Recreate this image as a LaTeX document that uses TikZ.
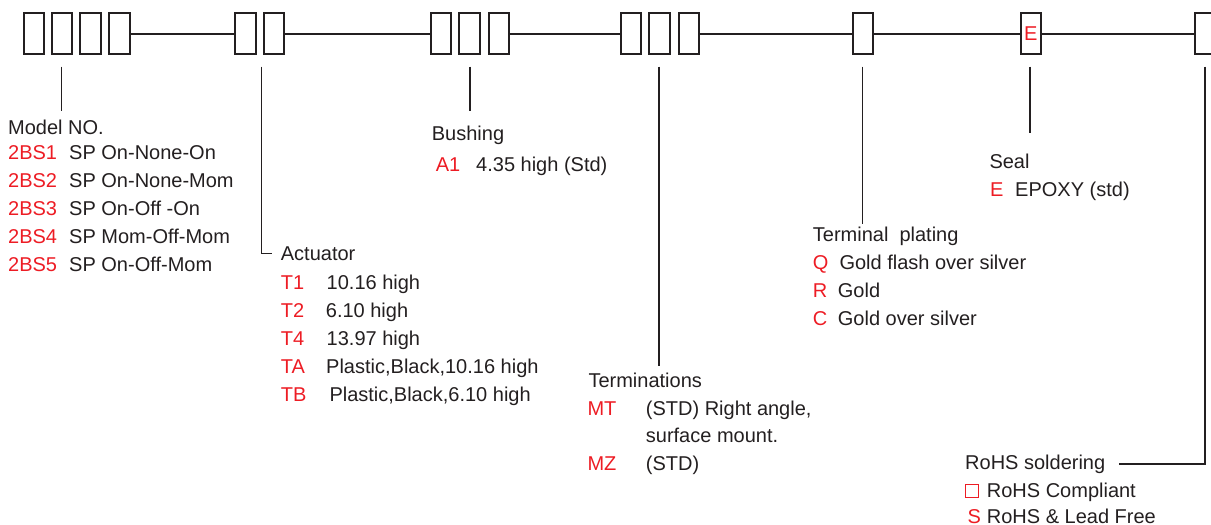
\documentclass[tikz,border=0pt]{standalone}
\usepackage{fontspec}
\setmainfont{Liberation Sans}
\definecolor{ink}{HTML}{231F20}
\definecolor{codered}{HTML}{ED1C24}
\tikzset{
  pnbox/.style={draw=ink, line width=2pt, minimum width=20.5pt, minimum height=40.7pt, inner sep=0pt},
  link/.style={draw=ink, line width=1.6pt},
  lead/.style={draw=ink, line width=1.3pt},
  lbl/.style={anchor=base west, inner sep=0pt, text=ink, font=\fontsize{20}{24}\selectfont},
  code/.style={lbl, text=codered},
}
\begin{document}
\begin{tikzpicture}[x=1pt,y=-1pt]
\useasboundingbox (0,0) rectangle (1211,525);
% boxes
\node[pnbox] (a1) at (33.85,33.7) {};
\node[pnbox] (a2) at (62,33.7) {};
\node[pnbox] (a3) at (90.5,33.7) {};
\node[pnbox] (a4) at (119.65,33.7) {};
\node[pnbox] (b1) at (245.5,33.7) {};
\node[pnbox] (b2) at (273.8,33.7) {};
\node[pnbox] (c1) at (440.8,33.7) {};
\node[pnbox] (c2) at (469.7,33.7) {};
\node[pnbox] (c3) at (498.8,33.7) {};
\node[pnbox] (d1) at (631.2,33.7) {};
\node[pnbox] (d2) at (659.5,33.7) {};
\node[pnbox] (d3) at (688.8,33.7) {};
\node[pnbox] (e1) at (863.2,33.7) {};
\node[pnbox, text=codered, font=\fontsize{20}{24}\selectfont] (f1) at (1030.8,33.7) {E};
\node[pnbox] (g1) at (1205.5,33.7) {};
% connecting lines
\draw[link] (a4.east) -- (b1.west);
\draw[link] (b2.east) -- (c1.west);
\draw[link] (c3.east) -- (d1.west);
\draw[link] (d3.east) -- (e1.west);
\draw[link] (e1.east) -- (f1.west);
\draw[link] (f1.east) -- (g1.west);
% leader coordinates
\coordinate (v1t) at (61.7,66.7);  \coordinate (v1b) at (61.7,111);
\coordinate (v2t) at (261.7,66.7); \coordinate (v2c) at (261.7,253.3); \coordinate (v2e) at (271.7,253.3);
\coordinate (v3t) at (470,66.7);   \coordinate (v3b) at (470,111);
\coordinate (v4t) at (659,66.7);   \coordinate (v4b) at (659,366);
\coordinate (v5t) at (862.7,66.7); \coordinate (v5b) at (862.7,224);
\coordinate (v6t) at (1030,66.7);  \coordinate (v6b) at (1030,133);
\coordinate (v7t) at (1205,66.7);  \coordinate (v7c) at (1205,464); \coordinate (v7e) at (1119,464);
\draw[lead] (v1t) -- (v1b);
\draw[lead] (v2t) -- (v2c) -- (v2e);
\draw[lead] (v3t) -- (v3b);
\draw[lead] (v4t) -- (v4b);
\draw[lead] (v5t) -- (v5b);
\draw[lead] (v6t) -- (v6b);
\draw[lead] (v7t) -- (v7c) -- (v7e);
% Model NO.
\node[lbl] (mh) at (8,134.3) {Model NO.};
\node[code] (m1c) at (8,159) {2BS1};   \node[lbl] (m1d) at (69,159) {SP On-None-On};
\node[code] (m2c) at (8,187) {2BS2};   \node[lbl] (m2d) at (69,187) {SP On-None-Mom};
\node[code] (m3c) at (8,215) {2BS3};   \node[lbl] (m3d) at (69,215) {SP On-Off -On};
\node[code] (m4c) at (8,243) {2BS4};   \node[lbl] (m4d) at (69,243) {SP Mom-Off-Mom};
\node[code] (m5c) at (8,271) {2BS5};   \node[lbl] (m5d) at (69,271) {SP On-Off-Mom};
% Actuator
\node[lbl] (ah) at (280.7,260.7) {Actuator};
\node[code] (a1c) at (280.7,289) {T1};  \node[lbl] (a1d) at (326.5,289) {10.16 high};
\node[code] (a2c) at (280.7,317) {T2};  \node[lbl] (a2d) at (325.7,317) {6.10 high};
\node[code] (a3c) at (280.7,345) {T4};  \node[lbl] (a3d) at (326.5,345) {13.97 high};
\node[code] (a4c) at (280.7,373) {TA};  \node[lbl] (a4d) at (326,373) {Plastic,Black,10.16 high};
\node[code] (a5c) at (280.7,401) {TB};  \node[lbl] (a5d) at (329.3,401) {Plastic,Black,6.10 high};
% Bushing
\node[lbl] (bh) at (431.7,140.7) {Bushing};
\node[code] (b1c) at (435.7,171.7) {A1};  \node[lbl] (b1d) at (476,171.7) {4.35 high (Std)};
% Terminations
\node[lbl] (th) at (588.3,387.3) {Terminations};
\node[code] (t1c) at (587.3,415) {MT};  \node[lbl] (t1d) at (645.7,415) {(STD) Right angle,};
\node[lbl] (t1e) at (645.7,442.7) {surface mount.};
\node[code] (t2c) at (587.3,470.7) {MZ};  \node[lbl] (t2d) at (645.7,470.7) {(STD)};
% Terminal plating
\node[lbl] (ph) at (812.7,241.7) {Terminal\ \ plating};
\node[code] (p1c) at (812.7,269.3) {Q};  \node[lbl] (p1d) at (839.3,269.3) {Gold flash over silver};
\node[code] (p2c) at (812.7,297.3) {R};  \node[lbl] (p2d) at (837.7,297.3) {Gold};
\node[code] (p3c) at (812.7,325.3) {C};  \node[lbl] (p3d) at (837.7,325.3) {Gold over silver};
% Seal
\node[lbl] (sh) at (989.3,168.3) {Seal};
\node[code] (s1c) at (990,196) {E};  \node[lbl] (s1d) at (1015,196) {EPOXY (std)};
% RoHS
\node[lbl] (rh) at (965,469.3) {RoHS soldering};
\node[draw=codered, line width=1pt, minimum width=13pt, minimum height=12.5pt, inner sep=0pt] (r1c) at (972,491) {};
\node[lbl] (r1d) at (986.7,497) {RoHS Compliant};
\node[code] (r2c) at (967.3,523.3) {S};  \node[lbl] (r2d) at (986.7,523.3) {RoHS \& Lead Free};
\end{tikzpicture}
\end{document}
